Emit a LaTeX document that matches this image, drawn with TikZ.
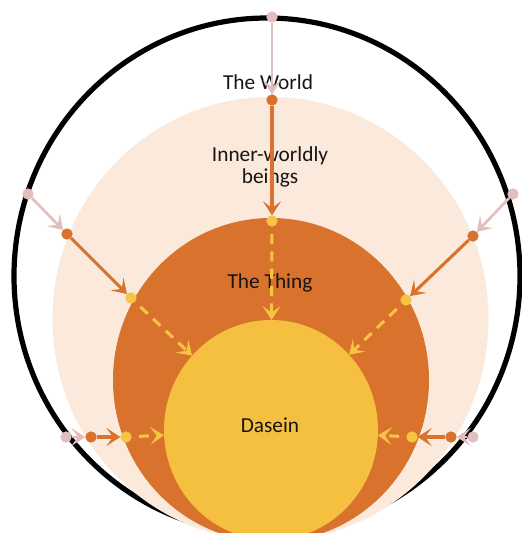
\documentclass[tikz,border=0pt]{standalone}
\usepackage{fontspec}
\setmainfont{Carlito}
\usetikzlibrary{arrows.meta,shapes.geometric}
\definecolor{peachc}{HTML}{FBE9DC}
\definecolor{thingc}{HTML}{D8722C}
\definecolor{daseinc}{HTML}{F5BF3F}
\definecolor{pinkc}{HTML}{E3BEBE}
\definecolor{ydotc}{HTML}{F6C343}
\definecolor{textc}{HTML}{151515}
\begin{document}
\begin{tikzpicture}[x=0.75pt,y=-0.75pt,
  disk/.style={ellipse,inner sep=0pt,outer sep=0pt},
  dotbase/.style={circle,inner sep=0pt,outer sep=0pt,minimum size=8.5pt},
  pinkdot/.style={dotbase,fill=pinkc},
  orangedot/.style={dotbase,fill=thingc},
  yellowdot/.style={dotbase,fill=ydotc},
  lbl/.style={anchor=base,text=textc,font=\fontsize{16}{19}\selectfont},
  tipstyle/.style={-{Stealth[length=10.5pt,width=13.5pt,inset=5pt]}},
  pinkarrow/.style={draw=pinkc,line width=2pt,tipstyle},
  orangearrow/.style={draw=thingc,line width=2.3pt,tipstyle},
  yellowarrow/.style={draw=ydotc,line width=2.3pt,tipstyle,
    dash pattern=on 7.5pt off 5.5pt,dash phase=7.5pt}
]
\clip (0,0) rectangle (522,533);
\fill[white] (0,0) rectangle (522,533);
% circles
\node[disk,draw=black,line width=3.9pt,minimum width=379.5pt,minimum height=387pt] (world) at (267,276) {};
\node[disk,fill=peachc,minimum width=327pt,minimum height=333pt] (inner) at (270.5,319) {};
\node[disk,fill=thingc,minimum width=237pt,minimum height=243pt] (thing) at (271,380) {};
\node[disk,fill=daseinc,minimum width=160.5pt,minimum height=165pt] (dasein) at (271,430) {};
% labels
\node[lbl] (tworld) at (268,89) {The World};
\node[lbl] (tinner1) at (270,161) {Inner-worldly};
\node[lbl] (tinner2) at (270,183) {beings};
\node[lbl] (tthing) at (270,288) {The Thing};
\node[lbl] (tdasein) at (270,432) {Dasein};
% dots
\node[pinkdot] (pT) at (272,17) {};
\node[orangedot] (oT) at (272,100) {};
\node[yellowdot] (yT) at (272,221) {};
\node[pinkdot] (pL) at (28,194) {};
\node[orangedot] (oL) at (67,234) {};
\node[yellowdot] (yL) at (131,298) {};
\node[pinkdot] (pR) at (513,194) {};
\node[orangedot] (oR) at (473,236) {};
\node[yellowdot] (yR) at (406,300) {};
\node[pinkdot] (pW) at (66,437) {};
\node[orangedot] (oW) at (91,437) {};
\node[yellowdot] (yW) at (126,437) {};
\node[pinkdot] (pE) at (473,437) {};
\node[orangedot] (oE) at (451,437) {};
\node[yellowdot] (yE) at (412,437) {};
% arrows
\foreach \s in {T,L,R,W,E}{
  \draw[pinkarrow] (p\s) -- (o\s);
  \draw[orangearrow] (o\s) -- (y\s);
  \draw[yellowarrow] (y\s) -- (dasein);
}
\end{tikzpicture}
\end{document}
